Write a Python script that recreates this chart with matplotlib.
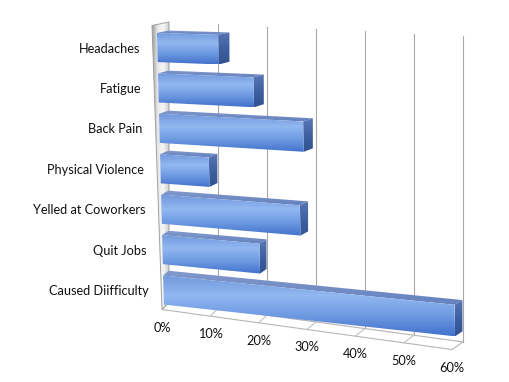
import matplotlib
matplotlib.use("Agg")
import matplotlib.pyplot as plt
import numpy as np
from matplotlib.patches import Polygon
from matplotlib.colors import LinearSegmentedColormap

categories = ["Headaches", "Fatigue", "Back Pain", "Physical Violence",
              "Yelled at Coworkers", "Quit Jobs", "Caused Diifficulty"]
values = [12.5, 19.5, 29.5, 10, 28.5, 20, 60]
ticks = [0, 10, 20, 30, 40, 50, 60]
tick_labels = ["0%", "10%", "20%", "30%", "40%", "50%", "60%"]

plt.rcParams["font.family"] = ["Lato", "DejaVu Sans"]

fig = plt.figure(figsize=(5.10, 3.82), dpi=100)
ax = fig.add_axes([0, 0, 1, 1])
ax.axis("off")


# perspective: v = value (%), h = 0 top .. 1 bottom of wall, d = 0 back .. 1 front
def proj(v, h, d):
    x = 169 + 4.9 * v
    y = 22 + 8 * v / 60 + h * (280 + 24 * v / 60)
    dx = -(17 - 10 * h + 4 * h * v / 60)
    dy = 3.5 + 4 * h
    return (x + d * dx, y + d * dy)


def floor_h(v):
    return 1 + 0.026 * v / 60


def face(pts, colors, vertical=True, z=2):
    poly = Polygon(pts, closed=True, facecolor="none", edgecolor="none", zorder=z)
    ax.add_patch(poly)
    xs = [p[0] for p in pts]
    ys = [p[1] for p in pts]
    cmap = LinearSegmentedColormap.from_list("f", colors)
    if vertical:
        grad = np.linspace(0, 1, 64).reshape(-1, 1)
    else:
        grad = np.linspace(0, 1, 64).reshape(1, -1)
    im = ax.imshow(grad, cmap=cmap, extent=(min(xs), max(xs), max(ys), min(ys)),
                   origin="upper", aspect="auto", interpolation="bilinear", zorder=z)
    im.set_clip_path(poly)


# back wall gridlines
for v in ticks[1:]:
    p0 = proj(v, 0.02 * v / 60, 0)
    p1 = proj(v, floor_h(v), 0)
    ax.plot([p0[0], p1[0]], [p0[1], p1[1]], color="#a8a8a8", lw=0.8, zorder=1)

# floor
fl = [proj(0, floor_h(0), 0), proj(60, floor_h(60), 0),
      proj(60, floor_h(60), 1), proj(0, floor_h(0), 1)]
ax.add_patch(Polygon(fl, closed=True, facecolor="white", edgecolor="#b5b5b5",
                     lw=0.8, zorder=1))
for v in ticks[1:-1]:
    p0 = proj(v, floor_h(v), 0)
    p1 = proj(v, floor_h(v), 1)
    ax.plot([p0[0], p1[0]], [p0[1], p1[1]], color="#c0c0c0", lw=0.8, zorder=1)

# side wall
wall = [proj(0, 0, 1), proj(0, 0, 0), proj(0, 1, 0), proj(0, 1, 1)]
face(wall, ["#9a9a9a", "#e8e8e8", "#f6f6f6", "#cfcfcf"], vertical=False, z=1.5)
ax.add_patch(Polygon(wall, closed=True, facecolor="none", edgecolor="#a0a0a0",
                     lw=0.7, zorder=1.6))

# bars
d0, d1 = 0.05, 0.72
for i, (cat, val) in enumerate(zip(categories, values)):
    h0 = (i + 0.21) / 7
    h1 = (i + 0.93) / 7
    top = [proj(0, h0, d0), proj(val, h0, d0), proj(val, h0, d1), proj(0, h0, d1)]
    end = [proj(val, h0, d1), proj(val, h0, d0), proj(val, h1, d0), proj(val, h1, d1)]
    front = [proj(0, h0, d1), proj(val, h0, d1), proj(val, h1, d1), proj(0, h1, d1)]
    face(top, ["#8299cb", "#6582bf"], z=3)
    face(end, ["#5a78b6", "#3f60a2", "#32538f"], z=3)
    face(front, ["#7299dc", "#92b8f1", "#6e9ae1", "#4372cc"], z=3)

    hc = (i + 0.57) / 7
    px = proj(0, hc, 1)[0] - 13
    py = proj(0, hc, d1)[1] + 1
    ax.text(px, py, cat, ha="right", va="center", fontsize=9.2, color="#111111")

# value axis labels
for v, lab in zip(ticks, tick_labels):
    p = proj(v, floor_h(v), 1)
    ax.text(p[0], p[1] + 18, lab, ha="center", va="center", fontsize=9.2,
            color="#111111")

ax.set_xlim(0, 510)
ax.set_ylim(382, 0)
fig.savefig("out.png", dpi=100)
